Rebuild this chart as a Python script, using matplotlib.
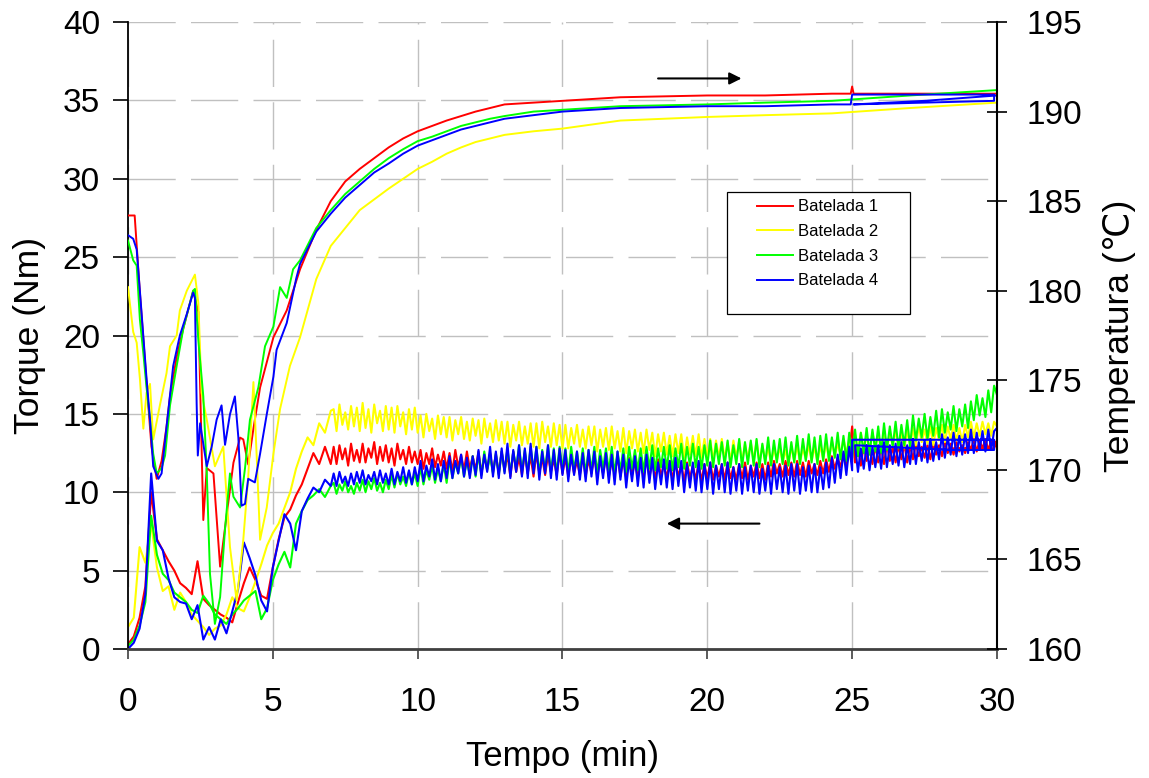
import numpy as np
import matplotlib
matplotlib.use("Agg")
import matplotlib.pyplot as plt
from matplotlib.patches import Rectangle

plt.rcParams['font.family'] = ['Liberation Sans', 'DejaVu Sans']

batches = ['Batelada 1', 'Batelada 2', 'Batelada 3', 'Batelada 4']
colors = ['#ff0000', '#ffff00', '#00ff00', '#0000ff']

# torque (Nm): read every 0.2 min up to 7 min, then every 0.1 min up to 30 min
t_torque = np.concatenate([np.round(np.arange(36) * 0.2, 1),
                           np.round(7.1 + np.arange(230) * 0.1, 1)])

torque_b1 = [
    0.3, 0.8, 2.0, 4.0, 10.0,
    7.0, 6.3, 5.6, 5.0, 4.2,
    3.9, 3.5, 5.6, 3.2, 2.8,
    2.5, 2.2, 2.0, 1.7, 3.0,
    4.2, 5.2, 4.4, 3.4, 3.2,
    5.2, 7.0, 8.4, 8.9, 9.8,
    10.5, 11.5, 12.5, 11.8, 12.9,
    11.8,
    12.9, 11.8, 13.0, 12.1, 12.8, 11.7, 13.1, 12.0, 12.7, 11.9,
    13.1, 11.9, 12.8, 12.2, 13.2, 11.8, 12.9, 12.0, 13.0, 11.9,
    12.8, 11.7, 13.1, 12.1, 12.7, 11.8, 12.9, 11.9, 12.6, 11.8,
    12.7, 11.5, 12.5, 11.8, 12.8, 11.6, 12.4, 11.7, 12.6, 11.5,
    12.5, 11.3, 12.7, 11.6, 12.4, 11.4, 12.6, 11.5, 12.3, 11.4,
    12.6, 11.2, 12.3, 11.5, 12.5, 11.3, 12.4, 11.2, 12.6, 11.4,
    12.4, 11.0, 12.6, 11.3, 12.2, 11.1, 12.5, 11.2, 12.3, 11.0,
    12.5, 11.2, 12.2, 11.1, 12.4, 11.3, 12.1, 11.1, 12.5, 11.2,
    12.2, 11.0, 12.3, 11.2, 12.0, 11.1, 12.3, 11.0, 12.1, 11.2,
    12.3, 11.0, 12.1, 11.2, 12.2, 11.0, 12.0, 11.1, 12.3, 11.0,
    12.1, 10.9, 12.2, 11.1, 11.9, 10.9, 12.1, 11.0, 12.2, 10.9,
    12.0, 10.8, 12.1, 11.0, 11.8, 10.9, 12.0, 10.8, 11.9, 11.0,
    11.8, 10.7, 11.9, 10.9, 11.7, 10.8, 11.9, 10.7, 11.8, 10.9,
    11.9, 10.8, 11.7, 11.0, 11.8, 10.8, 11.9, 10.9, 11.6, 10.8,
    11.8, 10.9, 11.9, 10.8, 11.7, 11.0, 11.9, 10.9, 11.8, 10.8,
    11.9, 11.0, 12.0, 11.2, 11.8, 11.0, 12.0, 11.1, 11.9, 11.0,
    12.0, 11.1, 11.9, 11.0, 12.0, 11.2, 11.8, 11.1, 12.0, 11.2,
    12.1, 11.3, 12.3, 11.5, 12.2, 11.6, 12.5, 11.7, 12.6, 14.2,
    11.9, 12.9, 11.7, 13.0, 12.0, 12.8, 11.8, 13.0, 11.9, 12.9,
    11.8, 13.1, 12.0, 12.9, 11.9, 13.0, 12.1, 13.1, 11.9, 13.0,
    12.1, 13.1, 12.3, 12.9, 12.2, 13.0, 12.1, 13.1, 12.4, 13.0,
    12.3, 13.2, 12.5, 13.1, 12.4, 13.2, 12.6, 13.0, 12.5, 13.2,
    12.7, 13.4, 12.6, 13.3, 12.8, 13.4, 12.7, 13.3, 12.9, 13.3]

torque_b2 = [
    1.4, 2.0, 6.5, 5.5, 8.0,
    5.2, 3.7, 4.0, 2.5, 3.6,
    3.0, 2.2, 1.8, 1.4, 0.9,
    1.3, 1.5, 2.2, 3.3, 2.6,
    2.4, 3.3, 4.3, 5.4, 6.6,
    7.4, 8.0, 9.0, 10.0, 11.5,
    12.6, 13.5, 13.0, 14.4, 13.8,
    15.2,
    15.3, 13.9, 15.6, 14.3, 15.1, 14.0, 15.5, 14.2, 15.4, 13.9,
    15.7, 14.1, 15.3, 13.8, 15.6, 14.4, 15.2, 13.9, 15.5, 14.0,
    15.4, 13.8, 15.5, 14.2, 15.1, 13.7, 15.3, 14.0, 15.4, 13.8,
    14.9, 13.5, 15.0, 13.9, 14.7, 13.4, 14.9, 13.7, 14.8, 13.5,
    14.8, 13.3, 14.6, 13.7, 14.8, 13.4, 14.5, 13.3, 14.7, 13.6,
    14.6, 13.1, 14.7, 13.5, 14.4, 13.2, 14.6, 13.3, 14.5, 13.1,
    14.5, 12.9, 14.3, 13.3, 14.5, 13.0, 14.2, 13.1, 14.4, 12.9,
    14.4, 12.8, 14.5, 13.2, 14.2, 12.9, 14.4, 13.0, 14.3, 12.8,
    14.3, 12.8, 14.1, 13.1, 14.3, 12.9, 14.0, 12.8, 14.2, 13.0,
    14.2, 12.6, 14.0, 12.9, 14.1, 12.7, 14.2, 12.8, 13.9, 12.6,
    14.1, 12.5, 13.9, 12.8, 14.0, 12.6, 13.8, 12.5, 14.0, 12.7,
    13.8, 12.3, 13.7, 12.6, 13.8, 12.4, 13.6, 12.3, 13.7, 12.5,
    13.7, 12.2, 13.5, 12.4, 13.6, 12.3, 13.7, 12.2, 13.4, 12.3,
    13.4, 12.0, 13.3, 12.2, 13.4, 12.1, 13.2, 12.0, 13.3, 12.2,
    13.3, 11.9, 13.1, 12.1, 13.2, 12.0, 13.3, 11.9, 13.0, 12.0,
    12.9, 11.8, 12.8, 12.0, 12.9, 11.9, 12.7, 11.8, 12.9, 12.0,
    13.0, 11.9, 12.8, 12.1, 13.0, 12.0, 12.9, 11.9, 13.0, 12.1,
    13.2, 12.1, 13.3, 12.3, 13.1, 12.4, 13.4, 12.5, 13.3, 12.6,
    13.7, 12.6, 13.8, 12.8, 13.6, 12.7, 13.8, 12.9, 13.7, 12.7,
    13.9, 12.8, 13.7, 13.0, 13.9, 12.9, 13.8, 12.8, 13.9, 13.0,
    14.1, 13.0, 14.2, 13.2, 14.0, 13.1, 14.2, 13.0, 14.1, 13.3,
    14.3, 13.2, 14.2, 13.4, 14.3, 13.3, 14.1, 13.2, 14.3, 13.5,
    14.5, 13.5, 14.4, 13.6, 14.5, 13.7, 14.4, 13.6, 14.5, 14.2]

torque_b3 = [
    0.2, 0.6, 1.5, 3.0, 8.5,
    6.0, 4.8, 4.4, 3.6, 3.3,
    3.0, 2.5, 2.3, 3.4, 2.9,
    2.2, 1.9, 1.6, 2.2, 2.6,
    3.1, 3.4, 3.7, 1.9, 2.6,
    4.4, 5.4, 6.2, 5.2, 8.0,
    8.8, 9.5, 9.8, 10.2, 9.7,
    10.4,
    10.6, 9.9, 10.5, 10.1, 10.7, 10.0, 10.4, 9.9, 10.6, 10.1,
    10.8, 10.0, 10.7, 10.2, 10.9, 10.1, 10.6, 10.0, 10.8, 10.2,
    11.1, 10.3, 11.2, 10.5, 11.0, 10.4, 11.3, 10.5, 11.2, 10.4,
    11.6, 10.5, 11.4, 10.8, 11.7, 10.6, 11.5, 10.7, 11.8, 10.6,
    12.1, 10.9, 11.9, 11.2, 12.2, 11.0, 12.0, 11.1, 12.3, 11.0,
    12.4, 11.1, 12.6, 11.4, 12.3, 11.2, 12.5, 11.1, 12.6, 11.3,
    12.8, 11.2, 12.6, 11.5, 13.0, 11.3, 12.7, 11.2, 12.9, 11.4,
    12.9, 11.2, 12.7, 11.4, 13.0, 11.3, 12.8, 11.2, 12.9, 11.5,
    12.8, 11.2, 12.9, 11.4, 12.6, 11.3, 12.8, 11.2, 12.7, 11.4,
    12.9, 11.2, 12.7, 11.5, 12.8, 11.3, 12.9, 11.2, 12.6, 11.4,
    12.8, 11.3, 12.9, 11.5, 12.7, 11.4, 12.8, 11.3, 12.9, 11.5,
    13.0, 11.4, 12.8, 11.6, 12.9, 11.5, 13.0, 11.4, 12.8, 11.6,
    13.1, 11.5, 12.9, 11.7, 13.1, 11.6, 12.9, 11.5, 13.0, 11.7,
    13.3, 11.6, 13.1, 11.8, 13.2, 11.7, 13.3, 11.6, 13.0, 11.8,
    13.4, 11.6, 13.2, 11.8, 13.3, 11.7, 13.4, 11.6, 13.1, 11.8,
    13.5, 11.7, 13.3, 11.9, 13.4, 11.8, 13.5, 11.7, 13.2, 11.9,
    13.6, 11.8, 13.4, 12.0, 13.7, 11.9, 13.5, 11.8, 13.6, 12.0,
    13.7, 12.0, 13.5, 12.2, 13.8, 12.1, 13.6, 12.0, 13.8, 12.2,
    14.0, 12.3, 13.8, 12.5, 14.1, 12.4, 14.0, 12.6, 14.2, 12.5,
    14.4, 12.7, 14.2, 12.9, 14.5, 12.8, 14.3, 13.0, 14.6, 12.9,
    14.9, 13.3, 14.7, 13.5, 15.0, 13.4, 14.8, 13.6, 15.2, 13.5,
    15.3, 13.8, 15.1, 14.0, 15.5, 13.9, 15.3, 14.2, 15.6, 14.1,
    15.8, 14.6, 16.2, 14.9, 16.0, 14.8, 16.5, 15.1, 16.8, 16.2]

torque_b4 = [
    0.0, 0.4, 1.3, 3.5, 11.2,
    6.9, 6.3, 4.5, 3.3, 3.0,
    2.9, 1.9, 2.8, 0.6, 1.4,
    0.6, 1.9, 1.0, 2.4, 3.8,
    6.8, 5.8, 4.7, 3.1, 2.4,
    5.2, 6.9, 8.6, 8.0, 6.3,
    8.8, 9.6, 10.3, 10.0, 10.8,
    10.4,
    11.2, 10.4, 11.3, 10.6, 11.0, 10.4, 11.2, 10.5, 11.3, 10.6,
    11.4, 10.5, 11.1, 10.7, 11.3, 10.5, 11.4, 10.6, 11.2, 10.5,
    11.5, 10.5, 11.3, 10.7, 11.6, 10.6, 11.4, 10.5, 11.6, 10.7,
    12.0, 10.7, 11.7, 11.0, 12.1, 10.8, 11.8, 10.7, 12.0, 10.9,
    12.3, 10.9, 12.0, 11.2, 12.4, 11.0, 12.2, 10.9, 12.3, 11.1,
    12.7, 10.9, 12.4, 11.3, 12.9, 11.0, 12.6, 10.9, 12.8, 11.2,
    13.1, 10.9, 12.7, 11.3, 13.0, 11.0, 12.8, 10.9, 13.1, 11.2,
    12.9, 10.8, 12.6, 11.2, 13.0, 10.9, 12.7, 10.8, 12.8, 11.1,
    12.7, 10.7, 12.4, 11.1, 12.6, 10.8, 12.5, 10.7, 12.7, 11.0,
    12.6, 10.5, 12.3, 10.9, 12.5, 10.6, 12.4, 10.5, 12.6, 10.8,
    12.4, 10.3, 12.1, 10.7, 12.3, 10.4, 12.2, 10.3, 12.4, 10.6,
    12.2, 10.2, 11.9, 10.5, 12.1, 10.3, 12.0, 10.2, 12.2, 10.4,
    12.0, 10.0, 11.8, 10.3, 11.9, 10.1, 12.0, 10.0, 11.8, 10.2,
    11.9, 9.9, 11.7, 10.2, 11.8, 10.0, 11.9, 9.9, 11.6, 10.1,
    11.8, 9.9, 11.6, 10.1, 11.7, 10.0, 11.8, 9.9, 11.5, 10.1,
    11.7, 9.9, 11.8, 10.2, 11.6, 10.0, 11.7, 9.9, 11.8, 10.1,
    11.8, 9.9, 11.6, 10.1, 11.7, 10.0, 11.8, 10.0, 11.6, 10.2,
    11.9, 10.3, 12.2, 10.6, 12.4, 10.9, 12.6, 11.1, 12.9, 11.4,
    13.0, 11.3, 12.8, 11.5, 13.0, 11.4, 12.9, 11.6, 13.0, 11.5,
    13.2, 11.6, 13.0, 11.8, 13.1, 11.7, 13.2, 11.6, 13.0, 11.8,
    13.4, 11.8, 13.2, 12.0, 13.3, 11.9, 13.4, 12.0, 13.2, 12.1,
    13.7, 12.2, 13.5, 12.4, 13.8, 12.3, 13.6, 12.4, 13.7, 12.5,
    14.0, 12.5, 13.8, 12.7, 13.9, 12.6, 14.0, 12.7, 13.9, 14.1]

# stray segments at the end of the logged runs
glitch_b1_t = [29.9, 28.4]
glitch_b1_q = [12.8, 12.8]
glitch_b4_t = [25.0, 29.9, 29.9, 28.4]
glitch_b4_q = [13.35, 13.35, 12.7, 12.7]

# temperature (degC)
temp_b1_t = [0, 0.23, 0.41, 0.64, 0.81, 0.99, 1.16, 1.33, 1.45, 1.68,
             1.91, 2.25, 2.43, 2.60, 2.72, 2.95, 3.18, 3.40, 3.64, 3.87,
             3.98, 4.15, 4.33, 4.56, 5.02, 5.48, 5.94, 6.5, 7.0, 7.5,
             8.0, 8.5, 9.0, 9.5, 10.0, 10.5, 11.0, 11.5, 12.0, 12.5,
             13.0, 14.0, 15.0, 17.0, 20.0, 22.0, 24.3, 24.95, 25.0, 25.05,
             27.5, 30.0]
temp_b1 = [184.2, 184.2, 179.9, 174.9, 171.3, 169.5, 170.5, 172.4, 174.1, 176.3,
           177.9, 180.0, 178.8, 167.2, 170.1, 169.8, 164.6, 167.4, 170.4, 171.8,
           171.7, 170.3, 172.3, 174.6, 177.4, 178.9, 181.2, 183.4, 185.0, 186.1,
           186.8, 187.4, 188.0, 188.5, 188.9, 189.2, 189.5, 189.75, 190.0, 190.2,
           190.4, 190.5, 190.6, 190.8, 190.9, 190.9, 191.0, 191.0, 191.4, 191.0,
           191.0, 191.0]

temp_b2_t = [0, 0.18, 0.30, 0.41, 0.53, 0.64, 0.76, 0.87, 1.10, 1.33,
             1.45, 1.68, 1.79, 2.03, 2.31, 2.43, 2.54, 2.72, 3.00, 3.29,
             3.52, 3.75, 3.98, 4.15, 4.33, 4.45, 4.56, 4.79, 5.02, 5.25,
             5.59, 5.94, 6.5, 7.0, 7.5, 8.0, 8.5, 9.0, 9.5, 10.0,
             10.5, 11.0, 11.5, 12.0, 12.5, 13.0, 14.0, 15.0, 17.0, 20.0,
             22.0, 24.3, 27.0, 30.0]
temp_b2 = [180.2, 177.7, 177.1, 175.1, 172.3, 174.3, 174.8, 171.7, 173.6, 175.4,
           176.9, 177.5, 178.9, 180.0, 180.9, 179.3, 174.3, 172.8, 170.2, 171.3,
           165.7, 162.7, 166.1, 169.6, 174.9, 170.5, 166.1, 167.9, 170.9, 173.4,
           175.8, 177.4, 180.65, 182.5, 183.5, 184.5, 185.1, 185.7, 186.25, 186.8,
           187.2, 187.65, 188.0, 188.3, 188.5, 188.7, 188.9, 189.05, 189.5, 189.7,
           189.8, 189.9, 190.2, 190.5]

temp_b3_t = [0, 0.18, 0.30, 0.41, 0.53, 0.64, 0.76, 0.87, 0.99, 1.16,
             1.28, 1.45, 1.68, 1.91, 2.25, 2.31, 2.43, 2.60, 2.72, 2.83,
             3.00, 3.18, 3.35, 3.52, 3.64, 3.87, 4.04, 4.21, 4.50, 4.73,
             5.02, 5.25, 5.48, 5.70, 5.94, 6.5, 7.0, 7.5, 8.0, 8.5,
             9.0, 9.5, 10.0, 10.5, 11.0, 11.5, 12.0, 12.5, 13.0, 14.0,
             15.0, 17.0, 20.0, 22.0, 24.3, 27.0, 30.0]
temp_b3 = [182.8, 181.7, 181.4, 178.4, 176.5, 174.6, 172.8, 170.9, 169.8, 170.1,
           170.8, 173.6, 175.8, 177.9, 180.0, 180.1, 177.2, 174.1, 169.8, 164.2,
           161.4, 162.9, 166.7, 169.8, 168.5, 167.9, 170.1, 172.8, 174.6, 176.9,
           178.0, 180.2, 179.6, 181.2, 181.7, 183.5, 184.5, 185.4, 186.1, 186.8,
           187.4, 187.9, 188.35, 188.6, 188.9, 189.2, 189.4, 189.6, 189.75, 190.0,
           190.1, 190.3, 190.4, 190.5, 190.6, 190.9, 191.2]

temp_b4_t = [0, 0.18, 0.30, 0.41, 0.64, 0.76, 0.87, 1.05, 1.16, 1.33,
             1.56, 1.79, 2.03, 2.25, 2.31, 2.37, 2.41, 2.49, 2.72, 2.89,
             3.06, 3.23, 3.35, 3.52, 3.69, 3.81, 3.92, 4.04, 4.15, 4.38,
             4.56, 4.79, 5.02, 5.13, 5.48, 5.81, 5.94, 6.5, 7.0, 7.5,
             8.0, 8.5, 9.0, 9.5, 10.0, 10.5, 11.0, 11.5, 12.0, 12.5,
             13.0, 14.0, 15.0, 17.0, 20.0, 22.0, 24.3, 24.95, 25.0, 29.9,
             29.9, 25.05, 27.5, 30.0]
temp_b4 = [183.1, 182.9, 182.3, 180.0, 175.1, 172.8, 170.2, 169.5, 169.8, 172.4,
           175.8, 177.5, 178.7, 179.9, 179.6, 173.7, 170.8, 172.6, 170.2, 171.3,
           172.8, 173.6, 171.4, 173.1, 174.1, 171.8, 168.0, 168.1, 169.5, 169.3,
           170.9, 173.1, 175.2, 176.7, 178.2, 180.7, 181.5, 183.3, 184.3, 185.2,
           185.9, 186.6, 187.1, 187.65, 188.1, 188.4, 188.7, 189.0, 189.2, 189.4,
           189.6, 189.8, 190.0, 190.2, 190.3, 190.3, 190.4, 190.4, 190.95, 190.95,
           190.6, 190.4, 190.6, 190.9]

torque_data = [torque_b1, torque_b2, torque_b3, torque_b4]
temp_data = [(temp_b1_t, temp_b1), (temp_b2_t, temp_b2),
             (temp_b3_t, temp_b3), (temp_b4_t, temp_b4)]

fig = plt.figure(figsize=(11.49, 7.78), dpi=100)
ax = fig.add_axes([0.1114, 0.1658, 0.7563, 0.8059])
ax2 = ax.twinx()

split = 216  # first sample after t = 25.0 min
temp_lines = []
for i, color in enumerate(colors):
    tq_x = t_torque
    tq_y = np.array(torque_data[i])
    if i == 0:
        tq_x = np.concatenate([tq_x, glitch_b1_t])
        tq_y = np.concatenate([tq_y, glitch_b1_q])
    elif i == 3:
        tq_x = np.concatenate([t_torque[:split], glitch_b4_t, t_torque[split:]])
        tq_y = np.concatenate([tq_y[:split], glitch_b4_q, tq_y[split:]])
    ax.plot(tq_x, tq_y, color=color, lw=1.5)
    tt, tv = temp_data[i]
    line, = ax2.plot(tt, tv, color=color, lw=1.4)
    temp_lines.append(line)

ax.set_xlim(0, 30)
ax.set_ylim(0, 40)
ax2.set_ylim(160, 195)
ax.set_xticks(range(0, 31, 5))
ax.set_yticks(range(0, 41, 5))
ax2.set_yticks(range(160, 196, 5))

ax.grid(True, color='#c0c0c0', linestyle=(0, (34, 11)), linewidth=1.0)

for a in (ax, ax2):
    a.spines['top'].set_visible(False)
ax.spines['right'].set_visible(False)
ax2.spines['left'].set_visible(False)
ax2.spines['bottom'].set_visible(False)
ax.spines['left'].set_linewidth(1.3)
ax.spines['bottom'].set_color('#404040')
ax.spines['bottom'].set_linewidth(2.0)
ax2.spines['right'].set_linewidth(1.5)

ax.tick_params(axis='y', direction='out', length=10.8, width=1.2, pad=9.4, labelsize=24)
ax.tick_params(axis='x', direction='out', length=7, width=1.2, pad=20, labelsize=24,
               color='#404040')
ax2.tick_params(axis='y', direction='inout', length=14.4, width=1.2, pad=14.2, labelsize=24)

ax.set_xlabel('Tempo (min)', fontsize=25)
ax.xaxis.set_label_coords(0.5, -0.145)
ax.set_ylabel('Torque (Nm)', fontsize=25.5)
ax.yaxis.set_label_coords(-0.094, 0.5)
ax2.set_ylabel('Temperatura (\u2103)', fontsize=25.5)
ax2.yaxis.set_label_coords(1.122, 0.5)

# arrows telling which axis each group of curves belongs to
ax.annotate('', xy=(21.18, 36.4), xytext=(18.3, 36.4),
            arrowprops=dict(arrowstyle='-|>', color='black', lw=1.5,
                            mutation_scale=18, shrinkA=0, shrinkB=0))
ax.annotate('', xy=(18.6, 8.0), xytext=(21.8, 8.0),
            arrowprops=dict(arrowstyle='-|>', color='black', lw=1.5,
                            mutation_scale=18, shrinkA=0, shrinkB=0))

box = Rectangle((0.6893, 0.5343), 0.2106, 0.1946, transform=ax2.transAxes,
                facecolor='white', edgecolor='black', lw=0.9, zorder=4)
ax2.add_patch(box)
leg = ax2.legend(temp_lines, batches, loc='upper left', bbox_to_anchor=(0.7235, 0.717),
                 frameon=False, fontsize=12, handlelength=2.15, handletextpad=0.3,
                 labelspacing=0.58, borderpad=0, borderaxespad=0)
leg.set_zorder(5)

fig.savefig('out.png', dpi=100)
